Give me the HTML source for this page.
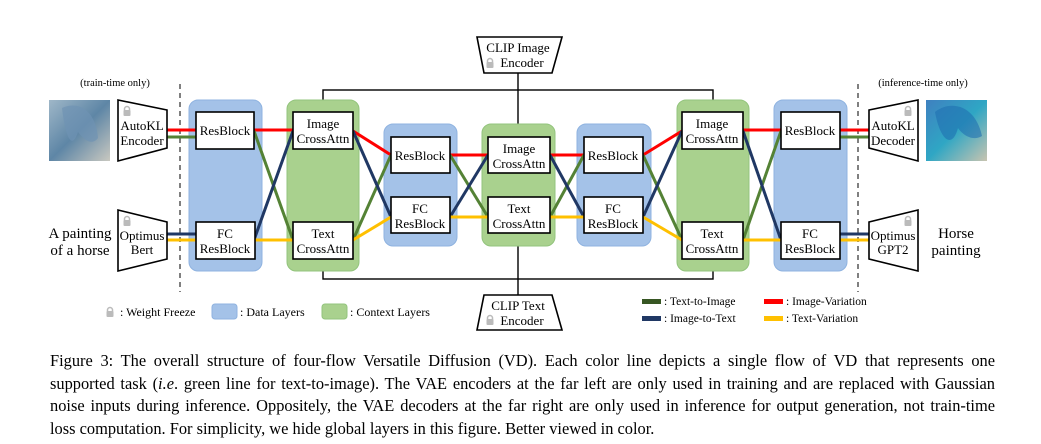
<!DOCTYPE html>
<html><head><meta charset="utf-8">
<style>
body{margin:0;background:#fff;}
#wrap{position:relative;width:1041px;height:444px;overflow:hidden;background:#fff;}
svg{position:absolute;left:0;top:0;}
svg text{font-family:"Liberation Serif",serif;fill:#000;}
.cap{position:absolute;left:50px;width:945px;font-family:"Liberation Serif",serif;font-size:16.4px;line-height:22.5px;top:350px;color:#000;}
.cap div{text-align:justify;text-align-last:justify;white-space:nowrap;}
.cap div.last{text-align-last:left;}
</style></head><body>
<div id="wrap">
<svg width="1041" height="340" viewBox="0 0 1041 340">
<defs>
<linearGradient id="h1" x1="0" y1="0" x2="1" y2="1"><stop offset="0" stop-color="#9fb7c8"/><stop offset="0.5" stop-color="#5e86a6"/><stop offset="1" stop-color="#c9c8c0"/></linearGradient>
<linearGradient id="h2" x1="0" y1="0" x2="1" y2="1"><stop offset="0" stop-color="#3f80c0"/><stop offset="0.5" stop-color="#2fa6c4"/><stop offset="1" stop-color="#c8c4b0"/></linearGradient>
<g id="lock"><rect x="-2.5" y="-5.5" width="5" height="6" rx="2.5" fill="none" stroke="#bbb" stroke-width="1.5"/><rect x="-3.5" y="-2" width="7" height="6" rx="1" fill="#bbb" stroke="none"/></g>
</defs>

<!-- outer context rectangle (behind panels) -->
<g fill="none" stroke="#000" stroke-width="1.4">
<rect x="323" y="90" width="390" height="189"/>
<line x1="518" y1="73" x2="518" y2="137"/>
<line x1="518" y1="233" x2="518" y2="295"/>
</g>

<!-- panels -->
<g><rect x="189" y="100" width="73" height="171" rx="9" fill="#a4c2e8" stroke="#8fb3e0"/></g>
<g><rect x="287" y="100" width="72" height="171" rx="9" fill="#a9d18e" stroke="#93c47d"/></g>
<g><rect x="384" y="124" width="73" height="122" rx="9" fill="#a4c2e8" stroke="#8fb3e0"/></g>
<g><rect x="482" y="124" width="73" height="122" rx="9" fill="#a9d18e" stroke="#93c47d"/></g>
<g><rect x="577" y="124" width="74" height="122" rx="9" fill="#a4c2e8" stroke="#8fb3e0"/></g>
<g><rect x="677" y="100" width="72" height="171" rx="9" fill="#a9d18e" stroke="#93c47d"/></g>
<g><rect x="774" y="100" width="73" height="171" rx="9" fill="#a4c2e8" stroke="#8fb3e0"/></g>

<!-- dashed separators -->
<line x1="180" y1="84" x2="180" y2="292" stroke="#000" stroke-dasharray="5,4"/>
<line x1="858" y1="84" x2="858" y2="292" stroke="#000" stroke-dasharray="5,4"/>

<!-- flow lines -->
<g fill="none" stroke-width="3">
<polyline stroke="#ff0000" points="167,130 196,130"/>
<polyline stroke="#ff0000" points="254,130 293,130"/>
<polyline stroke="#ff0000" points="353,131 391,155"/>
<polyline stroke="#ff0000" points="450,155 488,155"/>
<polyline stroke="#ff0000" points="550,155 584,155"/>
<polyline stroke="#ff0000" points="643,155 682,131"/>
<polyline stroke="#ff0000" points="743,130 781,130"/>
<polyline stroke="#ff0000" points="840,130 869,130"/>
<polyline stroke="#548235" points="167,137 196,137"/>
<polyline stroke="#548235" points="254,131 293,240"/>
<polyline stroke="#548235" points="353,240 391,155"/>
<polyline stroke="#548235" points="450,155 488,217"/>
<polyline stroke="#548235" points="550,217 584,155"/>
<polyline stroke="#548235" points="643,155 682,240"/>
<polyline stroke="#548235" points="743,240 781,131"/>
<polyline stroke="#548235" points="840,137 869,137"/>
<polyline stroke="#203864" points="167,234 196,234"/>
<polyline stroke="#203864" points="254,240 293,131"/>
<polyline stroke="#203864" points="353,131 391,217"/>
<polyline stroke="#203864" points="450,217 488,155"/>
<polyline stroke="#203864" points="550,155 584,217"/>
<polyline stroke="#203864" points="643,217 682,131"/>
<polyline stroke="#203864" points="743,131 781,240"/>
<polyline stroke="#203864" points="840,234 869,234"/>
<polyline stroke="#ffc000" points="167,240 196,240"/>
<polyline stroke="#ffc000" points="254,240 293,240"/>
<polyline stroke="#ffc000" points="353,240 391,217"/>
<polyline stroke="#ffc000" points="450,217 488,217"/>
<polyline stroke="#ffc000" points="550,217 584,217"/>
<polyline stroke="#ffc000" points="643,217 682,240"/>
<polyline stroke="#ffc000" points="743,240 781,240"/>
<polyline stroke="#ffc000" points="840,240 869,240"/>
</g>

<!-- blocks -->
<g fill="#fff" stroke="#000" stroke-width="1.6" font-size="13" text-anchor="middle">
<g><rect x="196" y="112" width="58" height="37"/><text x="225" y="135" stroke="none">ResBlock</text></g>
<g><rect x="196" y="222" width="59" height="37"/><text x="225" y="238" stroke="none">FC</text><text x="225" y="253" stroke="none">ResBlock</text></g>
<g><rect x="293" y="112" width="60" height="37"/><text x="323" y="128" stroke="none">Image</text><text x="323" y="143" stroke="none">CrossAttn</text></g>
<g><rect x="293" y="222" width="60" height="37"/><text x="323" y="238" stroke="none">Text</text><text x="323" y="253" stroke="none">CrossAttn</text></g>
<g><rect x="391" y="137" width="59" height="36"/><text x="420" y="160" stroke="none">ResBlock</text></g>
<g><rect x="391" y="197" width="59" height="36"/><text x="420" y="213" stroke="none">FC</text><text x="420" y="228" stroke="none">ResBlock</text></g>
<g><rect x="488" y="137" width="62" height="36"/><text x="519" y="153" stroke="none">Image</text><text x="519" y="168" stroke="none">CrossAttn</text></g>
<g><rect x="488" y="197" width="62" height="36"/><text x="519" y="213" stroke="none">Text</text><text x="519" y="228" stroke="none">CrossAttn</text></g>
<g><rect x="584" y="137" width="59" height="36"/><text x="613" y="160" stroke="none">ResBlock</text></g>
<g><rect x="584" y="197" width="59" height="36"/><text x="613" y="213" stroke="none">FC</text><text x="613" y="228" stroke="none">ResBlock</text></g>
<g><rect x="682" y="112" width="61" height="37"/><text x="712" y="128" stroke="none">Image</text><text x="712" y="143" stroke="none">CrossAttn</text></g>
<g><rect x="682" y="222" width="61" height="37"/><text x="712" y="238" stroke="none">Text</text><text x="712" y="253" stroke="none">CrossAttn</text></g>
<g><rect x="781" y="112" width="59" height="37"/><text x="810" y="135" stroke="none">ResBlock</text></g>
<g><rect x="781" y="222" width="59" height="37"/><text x="810" y="238" stroke="none">FC</text><text x="810" y="253" stroke="none">ResBlock</text></g>

<g><polygon points="118,100 167,110 167,148 118,161"/><text x="142" y="130" stroke="none">AutoKL</text><text x="142" y="145" stroke="none">Encoder</text></g>
<g><polygon points="118,210 167,222 167,259 118,271"/><text x="142" y="240" stroke="none">Optimus</text><text x="142" y="254" stroke="none">Bert</text></g>
<g><polygon points="869,110 918,100 918,161 869,148"/><text x="893" y="130" stroke="none">AutoKL</text><text x="893" y="145" stroke="none">Decoder</text></g>
<g><polygon points="869,222 918,210 918,271 869,259"/><text x="893" y="240" stroke="none">Optimus</text><text x="893" y="254" stroke="none">GPT2</text></g>
<g><polygon points="477,37 562,37 552,73 484,73"/><text x="518" y="52" stroke="none">CLIP Image</text><text x="522" y="67" stroke="none">Encoder</text></g>
<g><polygon points="484,295 552,295 562,330 477,330"/><text x="518" y="310" stroke="none">CLIP Text</text><text x="522" y="325" stroke="none">Encoder</text></g>
</g>

<!-- locks -->
<g>
<use href="#lock" x="127" y="112"/>
<use href="#lock" x="127" y="222"/>
<use href="#lock" x="908" y="112"/>
<use href="#lock" x="908" y="222"/>
<use href="#lock" x="490" y="64"/>
<use href="#lock" x="490" y="321"/>
</g>

<!-- images -->
<rect x="49" y="100" width="61" height="61" fill="url(#h1)"/>
<path d="M62,108 C80,100 96,112 98,138 C92,146 84,140 78,132 C72,150 66,140 62,108Z" fill="#6f93b3" opacity="0.7"/>
<rect x="926" y="100" width="61" height="61" fill="url(#h2)"/>
<path d="M935,112 C950,100 975,104 982,136 C972,142 962,134 958,128 C952,150 940,140 935,112Z" fill="#1f6fb0" opacity="0.6"/>

<g font-size="10.5" text-anchor="middle">
<text x="115" y="86">(train-time only)</text>
<text x="923" y="86">(inference-time only)</text>
</g>
<g font-size="15" text-anchor="middle">
<text x="80" y="238">A painting</text>
<text x="80" y="255">of a horse</text>
<text x="956" y="238">Horse</text>
<text x="956" y="255">painting</text>
</g>

<g font-size="12">
<use href="#lock" x="110" y="313"/>
<text x="120" y="316">: Weight Freeze</text>
<rect x="212" y="304" width="25" height="15" rx="3" fill="#a4c2e8" stroke="#8fb3e0"/>
<text x="240" y="316">: Data Layers</text>
<rect x="322" y="304" width="25" height="15" rx="3" fill="#a9d18e" stroke="#93c47d"/>
<text x="350" y="316">: Context Layers</text>
</g>
<g font-size="11.5">
<rect x="642" y="299" width="19" height="5" fill="#375623"/><text x="664" y="305">: Text-to-Image</text>
<rect x="642" y="316" width="19" height="5" fill="#203864"/><text x="664" y="322">: Image-to-Text</text>
<rect x="764" y="299" width="19" height="5" fill="#ff0000"/><text x="786" y="305">: Image-Variation</text>
<rect x="764" y="316" width="19" height="5" fill="#ffc000"/><text x="786" y="322">: Text-Variation</text>
</g>
</svg>
<div class="cap">
<div>Figure 3: The overall structure of four-flow Versatile Diffusion (VD). Each color line depicts a single flow of VD that represents one</div>
<div>supported task (<i>i.e</i>. green line for text-to-image). The VAE encoders at the far left are only used in training and are replaced with Gaussian</div>
<div>noise inputs during inference. Oppositely, the VAE decoders at the far right are only used in inference for output generation, not train-time</div>
<div class="last">loss computation. For simplicity, we hide global layers in this figure. Better viewed in color.</div>
</div>
</div>
</body></html>
